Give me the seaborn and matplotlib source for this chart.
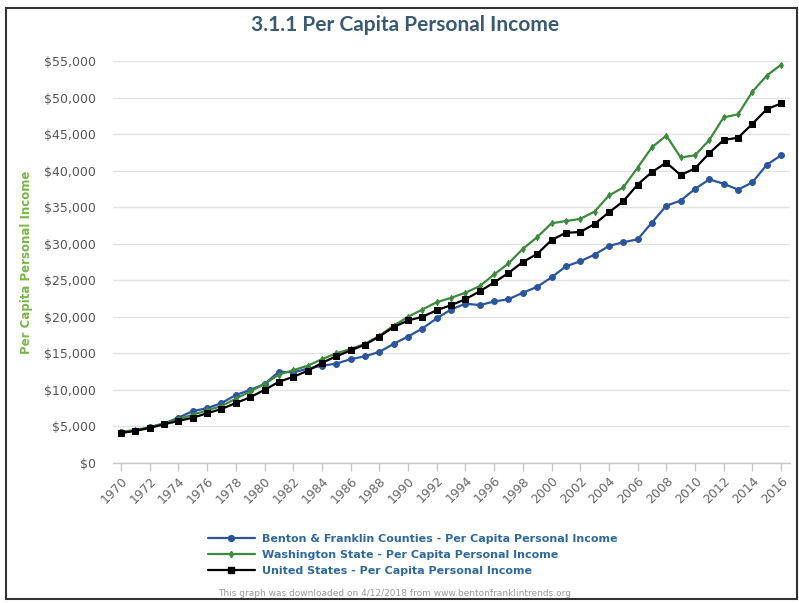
import numpy as np
import pandas as pd
import matplotlib
matplotlib.use("Agg")
import matplotlib.pyplot as plt
from matplotlib.lines import Line2D
from matplotlib.patches import Rectangle
from matplotlib.ticker import FuncFormatter, MultipleLocator
import seaborn as sns

years = list(range(1970, 2017))

benton_franklin = [4300, 4400, 4900, 5400, 6200, 7100, 7500, 8200, 9300, 10000,
                   10800, 12500, 12400, 12900, 13300, 13600, 14200, 14600, 15200, 16300,
                   17300, 18400, 19800, 21000, 21800, 21600, 22100, 22400, 23300, 24100,
                   25400, 26900, 27600, 28500, 29700, 30200, 30600, 32900, 35200, 35900,
                   37500, 38800, 38200, 37400, 38400, 40800, 42100]

washington = [4300, 4500, 4900, 5400, 6000, 6600, 7200, 7800, 8800, 9800,
              10800, 12100, 12700, 13300, 14200, 15000, 15600, 16300, 17400, 18800,
              20000, 21000, 22000, 22600, 23300, 24200, 25800, 27300, 29300, 30900,
              32800, 33100, 33400, 34400, 36600, 37700, 40400, 43200, 44800, 41800,
              42100, 44200, 47300, 47700, 50800, 53000, 54500]

united_states = [4100, 4400, 4800, 5300, 5750, 6200, 6800, 7400, 8200, 9000,
                 10000, 11100, 11800, 12600, 13700, 14600, 15400, 16200, 17300, 18600,
                 19500, 20000, 20900, 21600, 22400, 23500, 24700, 26000, 27500, 28600,
                 30500, 31500, 31600, 32700, 34300, 35800, 38100, 39800, 41100, 39400,
                 40300, 42400, 44200, 44500, 46400, 48400, 49200]

series_names = ["Benton & Franklin Counties - Per Capita Personal Income",
                "Washington State - Per Capita Personal Income",
                "United States - Per Capita Personal Income"]

sns.set_theme(style="white")
plt.rcParams["font.family"] = ["DejaVu Sans"]

fig = plt.figure(figsize=(7.99, 6.03), dpi=100)
fig.patch.set_facecolor("white")
ax = fig.add_axes([113 / 799, 1 - 463 / 603, (790 - 113) / 799, (463 - 61) / 603])

styles = [
    dict(color="#2b559c", marker="o", markersize=4.2, lw=1.6),
    dict(color="#3d8a3d", marker="d", markersize=3.2, lw=1.6),
    dict(color="#000000", marker="s", markersize=4.8, lw=1.6),
]

for name, vals, st in zip(series_names, [benton_franklin, washington, united_states], styles):
    df = pd.DataFrame({"year": years, "income": vals})
    sns.lineplot(data=df, x="year", y="income", ax=ax, color=st["color"],
                 marker=st["marker"], markersize=st["markersize"], linewidth=st["lw"],
                 markeredgecolor=st["color"], markerfacecolor=st["color"],
                 clip_on=False, zorder=3)

ax.set_xlim(1969.44, 2016.62)
ax.set_ylim(0, 55000)
ax.yaxis.set_major_locator(MultipleLocator(5000))
ax.yaxis.set_major_formatter(FuncFormatter(lambda v, p: f"${int(v):,}"))
ax.set_xticks(list(range(1970, 2017, 2)))
ax.set_xticklabels([str(y) for y in range(1970, 2017, 2)], rotation=45,
                   ha="right", rotation_mode="anchor")

ax.grid(axis="y", color="#e3e3e3", linewidth=1)
ax.grid(axis="x", visible=False)
for s in ["top", "right", "left"]:
    ax.spines[s].set_visible(False)
ax.spines["bottom"].set_color("#c8c8c8")
ax.spines["bottom"].set_linewidth(1)

ax.tick_params(axis="y", length=0, pad=12, labelsize=9, labelcolor="#555555")
ax.tick_params(axis="x", length=6, width=1, color="#c8c8c8", direction="out",
               bottom=True, pad=2, labelsize=9, labelcolor="#666666")
ax.set_xlabel("")
ax.set_ylabel("Per Capita Personal Income", color="#7ab648", fontsize=8.5,
              fontweight="semibold")
ax.yaxis.set_label_coords(-0.118, 0.5)

fig.text(405 / 799, 1 - 25 / 603, "3.1.1 Per Capita Personal Income",
         ha="center", va="center", fontsize=15, fontweight="bold",
         family=["Lato", "DejaVu Sans"], color="#3a5a74")

handles = [Line2D([], [], color=st["color"], marker=st["marker"],
                  markersize=st["markersize"], lw=st["lw"]) for st in styles]
leg = fig.legend(handles, series_names, loc="upper left",
                 bbox_to_anchor=(198 / 799, 1 - 524 / 603), frameon=False,
                 handlelength=4.2, handletextpad=0.7, labelspacing=0.55,
                 prop={"size": 8, "weight": "bold"})
for t in leg.get_texts():
    t.set_color("#2f6a9c")

fig.text(395 / 799, 1 - 594 / 603,
         "This graph was downloaded on 4/12/2018 from www.bentonfranklintrends.org",
         ha="center", va="center", fontsize=6.5, color="#999999")

fig.patches.append(Rectangle((6 / 799, 1 - 599 / 603), (797 - 6) / 799, (599 - 8) / 603,
                             transform=fig.transFigure, fill=False,
                             edgecolor="#333333", linewidth=1.5))

fig.savefig("out.png", dpi=100)
